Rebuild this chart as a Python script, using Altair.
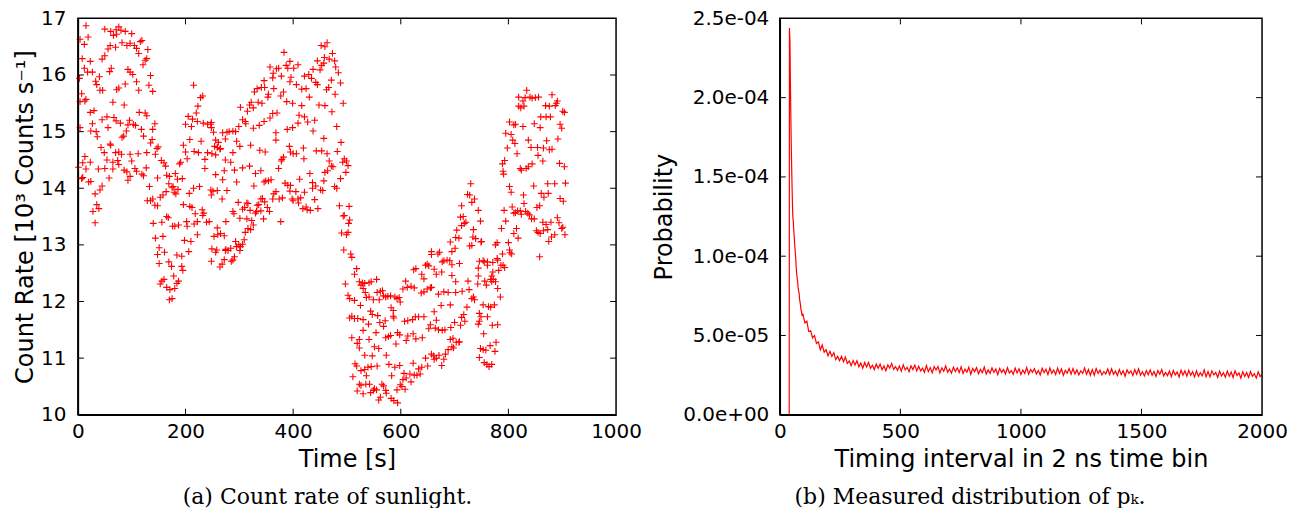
import altair as alt
import pandas as pd

# ---------------- (a) count rate of sunlight: (time [s], rate [10^3 counts/s]) ----------------
sun_points = [
    (15,16.87),(4,16.63),(19,16.67),(12,16.54),(50,16.81),(61,16.77),(71,16.80),(76,16.85),(80,16.79),(72,16.72),
    (66,16.70),(88,16.77),(100,16.73),(82,16.57),(91,16.52),(97,16.56),(105,16.52),(109,16.47),(119,16.61),(116,16.59),
    (130,16.45),(60,16.52),(56,16.46),(70,16.49),(50,16.34),(45,16.28),(113,16.38),(128,16.29),(125,16.26),(121,16.18),
    (8,16.29),(23,16.24),(12,16.12),(62,16.12),(59,16.06),(93,16.10),(97,16.05),(102,16.01),(18,16.05),(27,16.05),
    (3,15.94),(40,15.97),(33,15.89),(35,15.83),(109,15.88),(135,15.99),(132,15.82),(88,15.84),(76,15.77),(72,15.74),
    (41,15.73),(46,15.73),(113,15.73),(139,15.71),(7,15.67),(4,15.53),(15,15.57),(13,15.54),(65,15.52),(86,15.47),
    (114,15.34),(125,15.33),(128,15.28),(23,15.34),(30,15.37),(215,15.82),(232,15.63),(228,15.60),(223,15.45),(220,15.33),
    (205,15.27),(213,15.22),(200,15.13),(211,15.09),(222,15.18),(233,15.15),(241,15.13),(248,15.16),(27,15.14),(45,15.21),
    (54,15.26),(67,15.25),(71,15.19),(79,15.15),(96,15.20),(103,15.13),(107,15.11),(93,15.12),(118,15.04),(139,15.04),
    (143,15.14),(4,15.07),(24,15.01),(34,15.00),(56,15.07),(90,15.01),(85,14.92),(36,14.91),(122,14.92),(138,14.86),
    (135,14.80),(82,14.90),(208,14.86),(229,14.83),(60,14.78),(61,14.76),(43,14.72),(147,14.70),(149,14.73),(196,14.76),
    (200,14.64),(216,14.65),(224,14.63),(241,14.63),(13,14.56),(49,14.63),(70,14.63),(76,14.64),(81,14.60),(97,14.60),
    (112,14.61),(128,14.63),(144,14.60),(9,14.45),(23,14.46),(54,14.50),(65,14.46),(74,14.49),(100,14.48),(155,14.49),
    (160,14.45),(191,14.46),(189,14.43),(203,14.52),(236,14.51),(249,14.61),(1,14.37),(15,14.34),(38,14.34),(50,14.35),
    (65,14.34),(76,14.42),(86,14.32),(91,14.29),(106,14.35),(127,14.36),(109,14.30),(119,14.25),(122,14.22),(163,14.39),
    (165,14.23),(181,14.26),(236,14.35),(7,14.17),(9,14.19),(20,14.11),(24,14.12),(58,14.18),(93,14.14),(97,14.21),
    (148,14.18),(170,14.21),(185,14.16),(194,14.17),(169,14.08),(177,14.03),(45,14.04),(41,13.97),(32,13.90),(133,14.03),
    (175,14.01),(186,13.98),(164,13.94),(158,13.88),(153,13.84),(179,13.93),(182,13.90),(207,13.91),(215,14.00),(226,14.03),
    (248,13.88),(129,13.78),(135,13.78),(139,13.81),(143,13.70),(148,13.69),(196,13.71),(208,13.68),(212,13.66),(231,13.62),
    (234,13.56),(218,13.55),(232,13.52),(35,13.71),(39,13.64),(28,13.59),(32,13.39),(165,13.50),(168,13.48),(140,13.38),
    (156,13.40),(176,13.33),(180,13.33),(187,13.35),(202,13.41),(203,13.33),(216,13.37),(222,13.41),(239,13.40),(244,13.41),
    (144,13.12),(158,13.15),(198,13.08),(210,13.06),(222,13.18),(151,12.95),(161,12.87),(148,12.83),(184,12.82),(193,12.80),
    (206,12.88),(151,12.67),(169,12.70),(174,12.62),(193,12.62),(195,12.55),(178,12.45),(160,12.39),(156,12.36),(153,12.31),
    (187,12.36),(184,12.32),(165,12.25),(171,12.21),(180,12.23),(175,12.05),(170,12.03),
    (463,16.57),(452,16.52),(459,16.50),(383,16.40),(473,16.38),(458,16.31),(467,16.28),(477,16.25),(394,16.24),(445,16.25),
    (387,16.17),(409,16.18),(357,16.14),(369,16.11),(373,16.12),(390,16.12),(401,16.12),(453,16.17),(457,16.21),(437,16.10),
    (450,16.09),(479,16.14),(484,16.04),(363,16.03),(378,15.98),(362,15.95),(396,15.96),(421,15.98),(429,16.01),(434,15.94),
    (471,15.91),(346,15.90),(394,15.88),(406,15.83),(442,15.87),(445,15.83),(488,15.86),(341,15.78),(347,15.78),(364,15.76),
    (333,15.76),(328,15.70),(382,15.70),(416,15.75),(424,15.76),(462,15.74),(466,15.78),(354,15.66),(353,15.61),(377,15.63),
    (430,15.61),(478,15.66),(322,15.52),(335,15.52),(342,15.50),(388,15.53),(399,15.50),(302,15.43),(319,15.47),(326,15.42),
    (416,15.46),(448,15.47),(459,15.46),(493,15.50),(315,15.36),(362,15.32),(370,15.33),(472,15.35),(411,15.29),(421,15.26),
    (306,15.21),(311,15.18),(312,15.14),(337,15.11),(346,15.18),(357,15.24),(409,15.15),(427,15.17),(440,15.20),(326,15.06),
    (389,15.04),(399,15.07),(481,15.09),(247,15.13),(248,15.07),(252,14.99),(269,14.98),(277,14.99),(281,15.00),(288,15.01),
    (293,15.00),(299,15.09),(368,14.98),(368,14.85),(437,15.01),(457,14.88),(256,14.85),(261,14.81),(274,14.87),(295,14.83),
    (301,14.74),(321,14.76),(393,14.74),(489,14.81),(254,14.74),(259,14.72),(265,14.70),(256,14.59),(264,14.69),(288,14.63),
    (338,14.67),(348,14.64),(395,14.64),(400,14.61),(406,14.61),(419,14.71),(443,14.66),(453,14.66),(463,14.61),(482,14.65),
    (274,14.50),(284,14.46),(379,14.51),(382,14.55),(378,14.48),(420,14.52),(467,14.48),(471,14.39),(474,14.38),(492,14.46),
    (495,14.52),(256,14.24),(272,14.31),(291,14.32),(306,14.36),(319,14.39),(340,14.31),(373,14.35),(431,14.26),(459,14.28),
    (464,14.31),(269,14.15),(295,14.11),(330,14.26),(359,14.15),(354,14.13),(346,14.11),(349,14.13),(385,14.09),(390,14.05),
    (395,14.05),(412,14.16),(436,14.10),(442,14.04),(457,14.13),(488,14.17),(247,13.97),(251,13.95),(259,13.96),(277,13.96),
    (327,14.04),(394,13.95),(405,13.94),(421,13.93),(436,14.00),(451,13.97),(455,13.96),(477,14.03),(481,14.00),(268,13.81),
    (340,13.81),(343,13.82),(347,13.76),(362,13.81),(364,13.90),(368,13.94),(374,13.81),(380,13.83),(398,13.81),(400,13.78),
    (409,13.81),(414,13.83),(410,13.74),(418,13.64),(426,13.62),(432,13.61),(424,13.67),(446,13.64),(440,13.80),(486,13.69),
    (298,13.75),(314,13.74),(310,13.66),(316,13.73),(320,13.61),(306,13.63),(288,13.59),(290,13.55),(333,13.70),(336,13.71),
    (330,13.56),(332,13.59),(340,13.60),(356,13.59),(352,13.66),(377,13.41),(345,13.46),(314,13.46),(301,13.47),(275,13.41),
    (323,13.43),(493,13.51),(259,13.30),(326,13.35),(316,13.29),(321,13.27),(260,13.18),(253,13.15),(265,13.20),(272,13.16),
    (311,13.22),(309,13.09),(490,13.21),(293,13.06),(299,13.00),(306,13.01),(295,12.97),(302,12.97),(301,12.90),(284,12.94),
    (274,12.90),(275,12.92),(279,12.90),(258,12.91),(256,12.87),(249,12.93),(248,12.71),(291,12.79),(288,12.73),(285,12.71),
    (272,12.74),(268,12.66),(264,12.61),(494,12.91),(497,12.31),
    (499,14.48),(502,14.40),(498,14.28),(504,13.68),(495,13.52),(505,13.44),(503,13.38),(502,13.22),(499,13.18),(507,12.84),
    (509,12.78),(518,12.58),(514,12.48),(523,12.35),(529,12.33),(526,12.29),(533,12.32),(541,12.33),(555,12.39),(545,12.35),
    (502,12.11),(505,12.05),(514,12.02),(530,12.23),(534,12.16),(536,12.07),(541,12.08),(549,12.03),(556,12.16),(562,12.18),
    (566,12.19),(568,12.10),(560,12.03),(572,12.08),(576,12.09),(581,12.10),(589,12.08),(593,12.05),(597,12.07),(599,11.99),
    (582,11.89),(586,11.84),(525,11.93),(509,11.74),(505,11.71),(514,11.70),(520,11.70),(530,11.68),(544,11.83),(547,11.77),
    (557,11.75),(561,11.63),(568,11.56),(571,11.66),(586,11.74),(540,11.60),(530,11.49),(509,11.36),(523,11.33),(541,11.33),
    (554,11.45),(572,11.36),(577,11.38),(581,11.40),(594,11.45),(598,11.41),(591,11.25),(519,11.26),(523,11.18),(551,11.20),
    (559,11.17),(547,11.04),(533,11.05),(573,11.05),(515,10.90),(518,10.86),(533,10.80),(539,10.84),(526,10.78),(545,10.85),
    (556,10.86),(578,10.89),(583,10.69),(511,10.67),(523,10.54),(526,10.52),(535,10.54),(536,10.69),(542,10.54),(551,10.46),
    (549,10.43),(555,10.44),(565,10.54),(568,10.51),(572,10.43),(573,10.38),(519,10.42),(530,10.37),(544,10.39),(559,10.26),
    (562,10.31),(582,10.29),(587,10.25),(594,10.21),(602,10.50),(608,10.45),(593,10.44),(599,10.53),(589,10.84),(598,10.87),
    (606,10.73),(604,10.62),(610,10.65),(617,10.72),(619,10.58),(625,10.70),(630,10.70),(636,10.72),(623,10.91),(633,10.81),
    (639,10.84),(650,10.86),(646,11.00),(657,11.07),(662,10.98),(666,11.00),(676,10.87),(680,10.98),(661,11.04),(671,11.05),
    (683,11.07),(688,11.15),(695,11.20),(698,11.18),(708,11.28),(610,11.31),(613,11.39),(628,11.34),(640,11.36),(623,11.43),
    (652,11.52),(655,11.59),(670,11.50),(677,11.49),(682,11.50),(664,11.53),(693,11.54),(700,11.63),(711,11.58),(713,11.72),
    (719,11.65),(717,11.77),(666,11.67),(662,11.82),(675,11.93),(692,11.94),(670,12.13),(680,12.17),(688,12.16),(702,12.16),
    (714,12.18),(727,12.21),(735,12.08),(737,12.03),(723,11.90),(627,11.73),(633,11.73),(643,11.73),(607,11.65),(613,11.66),
    (622,11.68),(587,11.71),(604,12.22),(612,12.25),(619,12.27),(625,12.24),(638,12.15),(643,12.17),(649,12.22),(655,12.24),
    (657,12.25),(609,12.36),(624,12.56),(628,12.58),(639,12.48),(643,12.40),(646,12.64),(649,12.66),(652,12.63),(662,12.57),
    (666,12.48),(676,12.52),(677,12.70),(680,12.72),(686,12.73),(691,12.72),(695,12.65),(709,12.67),(695,12.46),(702,12.35),
    (657,12.88),(669,12.84),(672,12.87),(657,12.83),(695,12.88),(701,12.94),(692,13.05),(702,13.13),(708,13.12),(704,13.26),
    (713,13.34),(718,13.38),(721,13.40),(728,12.98),(732,12.99),(735,13.27),(734,13.14),(739,13.11),(716,13.50),(711,13.49),
    (713,13.69),(724,13.89),(728,13.88),(737,13.81),(730,14.08),(732,13.75),(725,12.36),(732,12.05),(746,12.71),(743,12.31),
    (692,11.33),(697,11.35),(703,11.28),(709,11.29),(748,11.17),
    (834,15.73),(819,15.61),(827,15.54),(831,15.60),(840,15.61),(844,15.59),(850,15.60),(856,15.61),(881,15.65),(891,15.54),
    (819,15.45),(823,15.42),(829,15.45),(869,15.46),(876,15.45),(887,15.46),(889,15.50),(901,15.36),(904,15.34),(802,15.17),
    (810,15.12),(813,15.13),(827,15.09),(848,15.14),(860,15.26),(870,15.26),(878,15.26),(859,15.07),(896,15.13),(899,15.06),
    (795,14.97),(805,14.95),(808,14.85),(812,14.79),(837,14.85),(871,14.84),(892,14.87),(798,14.71),(816,14.61),(842,14.72),
    (854,14.72),(865,14.71),(876,14.68),(881,14.69),(855,14.58),(864,14.48),(895,14.44),(904,14.38),(789,14.43),(793,14.49),
    (790,14.30),(791,14.25),(822,14.35),(824,14.32),(833,14.35),(837,14.38),(844,14.43),(847,14.04),(802,14.03),(805,13.93),
    (828,13.88),(861,13.91),(866,13.84),(874,13.91),(886,14.08),(873,14.08),(896,13.82),(902,13.77),(906,14.09),(792,13.61),
    (807,13.67),(810,13.56),(813,13.57),(817,13.60),(822,13.60),(829,13.73),(832,13.59),(836,13.56),(839,13.53),(843,13.46),
    (848,13.46),(853,13.66),(858,13.69),(824,13.54),(864,13.40),(870,13.36),(879,13.40),(891,13.48),(894,13.39),(899,13.29),
    (901,13.31),(905,13.18),(795,13.42),(787,13.29),(815,13.29),(810,13.20),(818,13.12),(852,13.25),(855,13.22),(859,13.20),
    (865,13.25),(873,13.27),(875,13.06),(880,13.14),(886,13.18),(744,13.61),(748,13.42),(749,13.05),(750,13.06),(776,13.00),
    (779,13.04),(800,13.04),(806,12.84),(803,12.86),(802,12.91),(789,12.84),(858,12.79),(779,12.76),(780,12.73),(771,12.69),
    (761,12.64),(761,12.70),(753,12.72),(755,12.70),(744,12.59),(771,12.52),(772,12.39),(782,12.55),(786,12.64),(790,12.64),
    (793,12.60),(744,12.45),(756,12.36),(767,12.39),(769,12.35),(769,12.45),(776,12.35),(780,12.23),(785,12.08),(759,12.29),
    (753,11.94),(763,11.91),(767,11.90),(774,11.94),(746,11.79),(749,11.73),(761,11.73),(746,11.65),(744,11.60),(770,11.58),
    (780,11.59),(754,11.43),(753,11.15),(758,11.14),(766,11.22),(775,11.12),(777,11.28),(755,10.92),(760,10.89),(764,10.85),
    (769,10.89),(746,11.01),
]
sun_time = [p[0] for p in sun_points]
sun_rate = [p[1] for p in sun_points]

a_x_ticks = [0, 200, 400, 600, 800, 1000]
a_y_ticks = [10, 11, 12, 13, 14, 15, 16, 17]
a_x_inner = [200, 400, 600, 800]
a_y_inner = [11, 12, 13, 14, 15, 16]

# ---------------- (b) measured distribution p_k (values in units of 1e-5) ----------------
bins_head = [0, 39, 40, 42, 44, 46, 48, 50, 52, 54, 56, 58, 60, 62, 64, 66, 68, 70, 72, 74,
             76, 78, 80, 82, 84, 86, 88, 90, 92, 94]
prob_head_e5 = [0, 0, 24.4, 23.6, 21.0, 18.6, 16.6, 15.0, 13.6, 12.5, 12.2, 11.6, 11.2, 10.7, 10.3, 9.9,
                9.3, 8.9, 8.6, 8.4, 8.0, 7.8, 7.7, 7.3, 7.1, 6.9, 6.6, 6.5, 6.3, 6.35]
bins_tail = list(range(96, 2001, 8))
prob_tail_e5 = [
    6.35, 5.8, 5.9, 5.25, 5.3, 4.85, 5.0, 4.5, 4.6, 4.1,
    4.4, 3.95, 4.1, 3.72, 4.0, 3.68, 3.92, 3.48, 3.68, 3.4,
    3.68, 3.34, 3.64, 3.23, 3.39, 3.1, 3.42, 3.14, 3.41, 3.02,
    3.26, 2.94, 3.3, 3.02, 3.3, 2.93, 3.12, 2.85, 3.19, 2.93,
    3.2, 2.84, 3.08, 2.78, 3.14, 2.94, 3.24, 2.86, 3.04, 2.8,
    3.07, 2.75, 3.15, 2.83, 2.99, 2.71, 3.09, 2.85, 3.13, 2.77,
    3.06, 2.76, 2.94, 2.68, 3.1, 2.72, 2.98, 2.64, 3.04, 2.82,
    3.04, 2.64, 2.96, 2.74, 3.08, 2.68, 2.88, 2.62, 3.0, 2.72,
    2.96, 2.66, 3.02, 2.6, 2.88, 2.68, 3.0, 2.54, 2.92, 2.72,
    2.97, 2.59, 2.87, 2.65, 3.01, 2.57, 2.83, 2.61, 2.95, 2.67,
    2.89, 2.53, 2.93, 2.67, 2.85, 2.57, 2.97, 2.63, 2.79, 2.55,
    2.94, 2.64, 2.9, 2.54, 2.82, 2.6, 2.98, 2.56, 2.86, 2.68,
    2.91, 2.57, 2.79, 2.51, 2.93, 2.65, 2.87, 2.53, 2.95, 2.61,
    2.82, 2.54, 2.94, 2.6, 2.88, 2.48, 2.8, 2.62, 2.92, 2.56,
    2.91, 2.57, 2.83, 2.51, 2.77, 2.61, 2.95, 2.55, 2.85, 2.49,
    2.85, 2.49, 2.91, 2.61, 2.81, 2.51, 2.73, 2.57, 2.89, 2.53,
    2.89, 2.55, 2.75, 2.47, 2.85, 2.53, 2.77, 2.43, 2.83, 2.61,
    2.77, 2.47, 2.85, 2.55, 2.89, 2.49, 2.71, 2.45, 2.79, 2.53,
    2.83, 2.49, 2.73, 2.41, 2.79, 2.55, 2.85, 2.45, 2.67, 2.47,
    2.75, 2.41, 2.79, 2.51, 2.69, 2.37, 2.81, 2.49, 2.77, 2.43,
    2.81, 2.49, 2.71, 2.39, 2.77, 2.43, 2.65, 2.45, 2.83, 2.39,
    2.73, 2.39, 2.77, 2.51, 2.67, 2.35, 2.75, 2.45, 2.65, 2.37,
    2.75, 2.43, 2.69, 2.35, 2.77, 2.47, 2.65, 2.31, 2.71, 2.41,
    2.67, 2.35, 2.73, 2.43, 2.59, 2.31, 2.71, 2.41, 2.55,
]
b_bins = bins_head + bins_tail
b_prob = [v * 1e-5 for v in prob_head_e5 + prob_tail_e5]

b_x_ticks = [0, 500, 1000, 1500, 2000]
b_y_ticks = [0, 0.00005, 0.0001, 0.00015, 0.0002, 0.00025]
b_x_inner = [500, 1000, 1500]
b_y_inner = [0.00005, 0.0001, 0.00015, 0.0002]

# ---------------- chart ----------------
RED = "#ff0000"
W_A, W_B, H = 539, 483, 397
TICK = 6
PLUS = "M-1,0L1,0M0,-1L0,1"
SANS = "DejaVu Sans"
SERIF = "DejaVu Serif"

df_a = pd.DataFrame({"time": sun_time, "rate": sun_rate})
df_b = pd.DataFrame({"bin": b_bins, "prob": b_prob})

# encodings shared by every layer of a panel (identical axes merge into one)
xa = alt.X("time:Q", scale=alt.Scale(domain=[0, 1000], nice=False, zero=False),
           axis=alt.Axis(values=a_x_ticks, title="Time [s]", format="d", labelPadding=7, titlePadding=6))
ya = alt.Y("rate:Q", scale=alt.Scale(domain=[10, 17], nice=False, zero=False),
           axis=alt.Axis(values=a_y_ticks, title="Count Rate [10³ Counts s⁻¹]", format="d",
                         labelPadding=12, titlePadding=3))
xb = alt.X("bin:Q", scale=alt.Scale(domain=[0, 2000], nice=False, zero=False),
           axis=alt.Axis(values=b_x_ticks, title="Timing interval in 2 ns time bin", format="d",
                         labelPadding=7, titlePadding=6))
yb = alt.Y("prob:Q", scale=alt.Scale(domain=[0, 0.00025], nice=False),
           axis=alt.Axis(values=b_y_ticks, title="Probability", labelPadding=11, titlePadding=6,
                         labelExpr="replace(replace(format(datum.value, '.1e'), 'e-', 'e-0'), 'e+', 'e+0')"))


def frame_and_ticks(xenc, xfield, xvals, yenc, yfield, yvals, w):
    tx = alt.Chart(pd.DataFrame({xfield: xvals})).mark_rule(color="black", strokeWidth=1)
    ty = alt.Chart(pd.DataFrame({yfield: yvals})).mark_rule(color="black", strokeWidth=1)
    box = alt.Chart(pd.DataFrame({xfield: [xvals[0]]})).mark_rect(
        fill=None, stroke="black", strokeWidth=1.5
    ).encode(x=alt.value(0), x2=alt.value(w), y=alt.value(0), y2=alt.value(H))
    return [
        box,
        tx.encode(x=xenc, y=alt.value(H), y2=alt.value(H - TICK)),
        tx.encode(x=xenc, y=alt.value(0), y2=alt.value(TICK)),
        ty.encode(y=yenc, x=alt.value(0), x2=alt.value(TICK)),
        ty.encode(y=yenc, x=alt.value(w), x2=alt.value(w - TICK)),
    ]


def caption(text):
    return alt.TitleParams(text=text, orient="bottom", anchor="middle", frame="bounds",
                           font=SERIF, fontSize=22, fontWeight="normal", color="black", offset=15)


points = alt.Chart(df_a).mark_point(
    shape=PLUS, size=46, filled=False, color=RED, strokeWidth=1.1, opacity=1
).encode(x=xa, y=ya)
panel_a = alt.layer(points, *frame_and_ticks(xa, "time", a_x_inner, ya, "rate", a_y_inner, W_A)).properties(
    width=W_A, height=H, title=caption("(a) Count rate of sunlight.")
)

line = alt.Chart(df_b).mark_line(color=RED, strokeWidth=1.2, clip=True).encode(x=xb, y=yb)
panel_b = alt.layer(line, *frame_and_ticks(xb, "bin", b_x_inner, yb, "prob", b_y_inner, W_B)).properties(
    width=W_B, height=H, title=caption("(b) Measured distribution of pₖ.")
)

chart = alt.hconcat(panel_a, panel_b, spacing=10).properties(
    padding={"left": 5, "top": 0, "right": 5, "bottom": 0}
).configure(
    background="white"
).configure_axis(
    labelFont=SANS, labelFontSize=20, labelColor="black",
    titleFont=SANS, titleFontSize=24, titleFontWeight="normal", titleColor="black",
    domainColor="black", domainWidth=1.5, ticks=False, tickSize=0, grid=False,
    labelFlush=False, labelOverlap=False,
).configure_view(stroke=None)

chart.save("out.html", embed_options={"renderer": "svg", "actions": False})
